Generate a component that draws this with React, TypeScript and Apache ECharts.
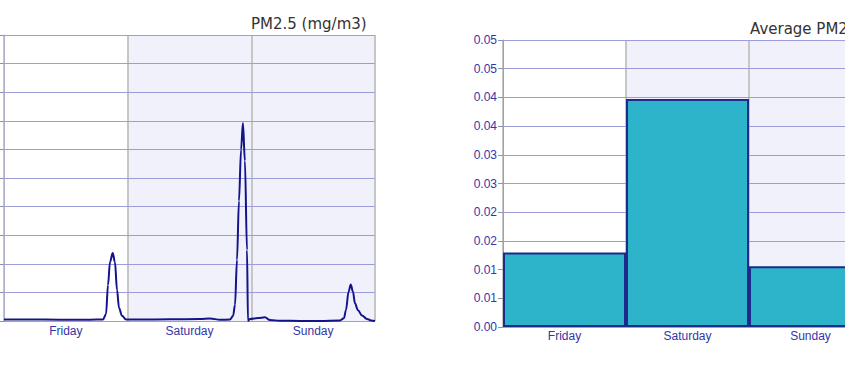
import React, { useEffect, useRef } from "react";
import * as echarts from "echarts";

const days = ["Friday", "Saturday", "Sunday"];
const avgPm25 = [0.013, 0.0397, 0.0106];
const avgTickLabels = ["0.00", "0.01", "0.01", "0.02", "0.02", "0.03", "0.03", "0.04", "0.04", "0.05", "0.05"];

// time in days since Friday 00:00, PM2.5 in mg/m3
const lineDay = [
  0, 0.21, 0.45, 0.695, 0.8, 0.825, 0.841, 0.857, 0.879, 0.897, 0.914, 0.93, 0.954, 0.987,
  1.1, 1.342, 1.585, 1.666, 1.747, 1.827, 1.852, 1.868, 1.884, 1.9, 1.917, 1.932, 1.948, 1.965, 1.973,
  1.989, 2.054, 2.11, 2.151, 2.232, 2.393, 2.555, 2.717, 2.749, 2.765, 2.786, 2.804, 2.822, 2.838, 2.862, 2.895, 2.935, 2.968, 3.0,
];
const lineValue = [
  0.0026, 0.0026, 0.0023, 0.0023, 0.0026, 0.012, 0.063, 0.103, 0.119, 0.103, 0.054, 0.023, 0.009, 0.0026,
  0.0026, 0.003, 0.0035, 0.0044, 0.0021, 0.0026, 0.0087, 0.028, 0.107, 0.21, 0.3, 0.346, 0.28, 0.124, 0.0,
  0.0035, 0.0052, 0.0065, 0.0017, 0.0005, 0.0, 0.0, 0.0009, 0.005, 0.019, 0.051, 0.064, 0.051, 0.031, 0.019, 0.0096, 0.0035, 0.0009, 0.0,
];

const LAV = "#f1f1fb";
const GRID = "#9d9ddb";
const SEP = "#c6c6c6";
const LABEL = "#3535a8";

export default function App() {
  const ref = useRef<HTMLDivElement>(null);
  useEffect(() => {
    if (!ref.current) return;
    const chart = echarts.init(ref.current, null, { renderer: "svg" });
    const catAxis = (gridIndex: number, margin: number) => ({
      type: "category",
      gridIndex,
      data: days,
      boundaryGap: true,
      axisLine: { show: false },
      axisTick: { show: false },
      axisLabel: { color: LABEL, fontSize: 12, fontFamily: "Liberation Sans, Arial", margin },
      splitLine: { show: true, lineStyle: { color: SEP, width: 2 } },
      splitArea: { show: true, areaStyle: { color: ["#ffffff", LAV, LAV] } },
      z: 0,
    });
    chart.setOption({
      animation: false,
      backgroundColor: "#ffffff",
      title: [
        {
          text: "PM2.5 (mg/m3)",
          left: 251,
          top: 16,
          padding: 0,
          textStyle: { fontFamily: "DejaVu Sans", fontSize: 15, fontWeight: "normal", color: "#333333" },
        },
        {
          text: "Average PM2.5 (mg/m3)",
          left: 750,
          top: 21,
          padding: 0,
          textStyle: { fontFamily: "DejaVu Sans", fontSize: 15, fontWeight: "normal", color: "#333333" },
        },
      ],
      grid: [
        { left: 4, top: 35, width: 371, height: 286, containLabel: false },
        { left: 503, top: 40, width: 369, height: 287, containLabel: false },
      ],
      xAxis: [
        catAxis(0, 4),
        { type: "value", gridIndex: 0, min: 0, max: 3, show: false },
        catAxis(1, 3),
      ],
      yAxis: [
        {
          type: "value",
          gridIndex: 0,
          min: 0,
          max: 0.5,
          interval: 0.05,
          z: 2,
          axisLine: { show: true, lineStyle: { color: "#b0b0c8" } },
          axisTick: { show: true, length: 4, lineStyle: { color: "#9090a8" } },
          axisLabel: { show: false },
          splitLine: { show: true, lineStyle: { color: GRID, width: 1 } },
        },
        {
          type: "value",
          gridIndex: 1,
          min: 0,
          max: 0.05,
          interval: 0.005,
          z: 2,
          axisLine: { show: true, lineStyle: { color: "#a0a0b0" } },
          axisTick: { show: true, length: 5, lineStyle: { color: "#9090a8" } },
          axisLabel: {
            color: LABEL,
            fontSize: 12,
            fontFamily: "Liberation Sans, Arial",
            margin: 6,
            formatter: (v: number) => avgTickLabels[Math.round(v / 0.005)] ?? "",
          },
          splitLine: { show: true, lineStyle: { color: GRID, width: 1 } },
        },
      ],
      series: [
        {
          type: "line",
          xAxisIndex: 1,
          yAxisIndex: 0,
          data: lineDay.map((d, i) => [d, lineValue[i]]),
          showSymbol: false,
          smooth: 0.35,
          smoothMonotone: "x",
          lineStyle: { color: "#14148a", width: 2 },
          z: 5,
        },
        {
          type: "bar",
          xAxisIndex: 2,
          yAxisIndex: 1,
          data: avgPm25,
          barCategoryGap: "0%",
          itemStyle: { color: "#2db4cb", borderColor: "#1c2a8a", borderWidth: 2 },
          z: 5,
        },
      ],
    });
    return () => chart.dispose();
  }, []);
  return (
    <div style={{ position: "fixed", left: 0, top: 0, width: 845, height: 365, overflow: "hidden" }}>
      <div ref={ref} style={{ width: 900, height: 365 }} />
    </div>
  );
}
